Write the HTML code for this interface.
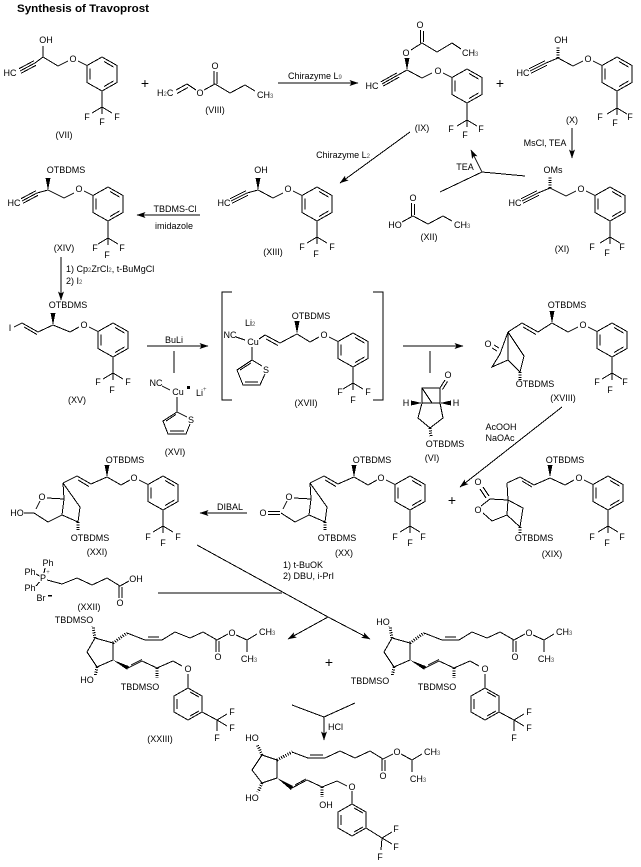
<!DOCTYPE html>
<html><head><meta charset="utf-8">
<style>
html,body{margin:0;padding:0;background:#fff;}
svg{display:block;}
text{font-family:"Liberation Sans",Arial,sans-serif;font-size:9px;fill:#000;stroke:none;text-anchor:middle;dominant-baseline:central;}
text.s{text-anchor:start;}
.sub{font-size:6px;fill:#555;}
.h{stroke-width:3;stroke-dasharray:1 1.4;}
.w{fill:#000;stroke:none;}
</style></head>
<body>
<svg width="641" height="867" viewBox="0 0 641 867" xmlns="http://www.w3.org/2000/svg">
<defs>
<marker id="ah" markerWidth="9" markerHeight="7" refX="8.5" refY="3.5" orient="auto" markerUnits="userSpaceOnUse"><path d="M0,0.5 L9,3.5 L0,6.5 L2,3.5 Z" fill="#000"/></marker>
</defs>
<rect width="641" height="867" fill="#fff"/>
<text class="s" x="17" y="9" style="font-size:11px;font-weight:bold" textLength="132" lengthAdjust="spacingAndGlyphs">Synthesis of Travoprost</text>

<g stroke="#000" stroke-width="1" fill="none" shape-rendering="crispEdges">

<!-- VII -->
<text x="46" y="40">OH</text>
<text x="10" y="73">HC</text>
<path d="M20,71 L35,63 M18.8,68.8 L33.8,60.8 M21.2,73.2 L36.2,65.2 M35,63 L43,57 L43,46 M43,57 L58,66 L68,61"/>
<g transform="translate(102,74)">
<path d="M0,-17 L15,-8.5 L15,8.5 L0,17 L-15,8.5 L-15,-8.5 Z M2,-12.5 L11.5,-7 M-12,-5.5 L-12,5.5 M11.5,7 L2,12.5 M-15,-8.5 L-24,-13 M0,17 L0,33 L-10,39 M0,33 L10,39 M0,33 L0,40"/>
<text x="-29" y="-15">O</text><text x="-15" y="43">F</text><text x="15" y="43">F</text><text x="0" y="48">F</text>
</g>
<text x="64" y="135">(VII)</text>

<text x="145" y="83" style="font-size:14px">+</text>

<!-- VIII -->
<text class="s" x="157" y="93">H<tspan class="sub" dy="2">2</tspan><tspan dy="-2">C</tspan></text>
<path d="M176,90 L187,84 M177,93.5 L188,87.5 M187,84 L196,90 M204,90 L215,84 M214,84 L214,71 M217,84 L217,72 M215,84 L230,93 L245,85 L255,91"/>
<text x="200" y="93">O</text>
<text x="215" y="66">O</text>
<text class="s" x="257" y="95">CH<tspan class="sub" dy="2">3</tspan></text>
<text x="215" y="110">(VIII)</text>

<line x1="278" y1="83" x2="358" y2="83" marker-end="url(#ah)"/>
<text class="s" x="288" y="76">Chirazyme L<tspan class="sub" dy="2">9</tspan></text>

<!-- IX -->
<text x="420" y="25">O</text>
<path d="M420.5,30 L420.5,43 M423.5,31 L423.5,42 M422,43 L437,52 L452,43 L461,49 M422,43 L411,50"/>
<text class="s" x="462" y="53">CH<tspan class="sub" dy="2">3</tspan></text>
<text x="406" y="53">O</text>
<polygon class="w" points="407,70 404.5,58 409.5,58"/>
<text x="372" y="86">HC</text>
<path d="M382,84 L398,75 M380.8,81.9 L396.8,72.9 M383.2,86.1 L399.2,77.1 M398,75 L407,70 L422,78 L432,73"/>
<g transform="translate(467,86)">
<path d="M0,-17 L15,-8.5 L15,8.5 L0,17 L-15,8.5 L-15,-8.5 Z M2,-12.5 L11.5,-7 M-12,-5.5 L-12,5.5 M11.5,7 L2,12.5 M-15,-8.5 L-24,-13 M0,17 L0,34 L-10,40 M0,34 L10,40 M0,34 L0,41"/>
<text x="-29" y="-15">O</text><text x="-16" y="43">F</text><text x="14" y="43">F</text><text x="-2" y="49">F</text>
</g>
<text x="422" y="128">(IX)</text>
<text x="500" y="83" style="font-size:14px">+</text>

<!-- X -->
<text x="561" y="40">OH</text>
<line class="h" x1="558" y1="58" x2="558" y2="46"/>
<text x="523" y="73">HC</text>
<path d="M530,71 L546,63 M528.8,68.8 L544.8,60.8 M531.2,73.2 L547.2,65.2 M546,63 L558,58 L573,66 L583,61"/>
<g transform="translate(617,74)">
<path d="M0,-17 L15,-8.5 L15,8.5 L0,17 L-15,8.5 L-15,-8.5 Z M2,-12.5 L11.5,-7 M-12,-5.5 L-12,5.5 M11.5,7 L2,12.5 M-15,-8.5 L-24,-13 M0,17 L0,34 L-10,40 M0,34 L10,40 M0,34 L0,41"/>
<text x="-29" y="-15">O</text><text x="-17" y="43">F</text><text x="13" y="43">F</text><text x="-2" y="49">F</text>
</g>
<text x="572" y="120">(X)</text>
<line x1="572" y1="128" x2="572" y2="158" marker-end="url(#ah)"/>
<text x="545" y="143">MsCl, TEA</text>

<!-- XI -->
<text x="553" y="170">OMs</text>
<line class="h" x1="550" y1="188" x2="550" y2="176"/>
<text x="515" y="203">HC</text>
<path d="M522,201 L538,193 M520.8,198.8 L536.8,190.8 M523.2,203.2 L539.2,195.2 M538,193 L550,188 L566,196 L576,191"/>
<g transform="translate(610,204)">
<path d="M0,-17 L15,-8.5 L15,8.5 L0,17 L-15,8.5 L-15,-8.5 Z M2,-12.5 L11.5,-7 M-12,-5.5 L-12,5.5 M11.5,7 L2,12.5 M-15,-8.5 L-24,-13 M0,17 L0,33 L-10,39 M0,33 L10,39 M0,33 L0,40"/>
<text x="-29" y="-15">O</text><text x="-18" y="43">F</text><text x="12" y="43">F</text><text x="-3" y="49">F</text>
</g>
<text x="562" y="249">(XI)</text>

<!-- TEA arrow -->
<path d="M525,176 L482,172 M440,192 L482,172"/>
<line x1="482" y1="172" x2="471" y2="150" marker-end="url(#ah)"/>
<text x="465" y="167">TEA</text>

<!-- XII -->
<text x="413" y="198">O</text>
<path d="M411.5,203 L411.5,216 M414.5,204 L414.5,215 M402,222 L413,216 L428,224 L443,216 L452,221"/>
<text x="395" y="225">HO</text>
<text class="s" x="454" y="225">CH<tspan class="sub" dy="2">3</tspan></text>
<text x="429" y="237">(XII)</text>

<line x1="410" y1="132" x2="340" y2="183" marker-end="url(#ah)"/>
<text x="343" y="155">Chirazyme L<tspan class="sub" dy="2">2</tspan></text>

<!-- XIII -->
<text x="261" y="170">OH</text>
<polygon class="w" points="258,190 255.5,178 260.5,178"/>
<text x="224" y="203">HC</text>
<path d="M231,201 L247,193 M229.8,198.8 L245.8,190.8 M232.2,203.2 L248.2,195.2 M247,193 L258,190 L273,198 L283,193"/>
<g transform="translate(317,204)">
<path d="M0,-17 L15,-8.5 L15,8.5 L0,17 L-15,8.5 L-15,-8.5 Z M2,-12.5 L11.5,-7 M-12,-5.5 L-12,5.5 M11.5,7 L2,12.5 M-15,-8.5 L-24,-13 M0,17 L0,33 L-10,39 M0,33 L10,39 M0,33 L0,40"/>
<text x="-29" y="-15">O</text><text x="-15" y="43">F</text><text x="15" y="43">F</text><text x="-1" y="50">F</text>
</g>
<text x="273" y="252">(XIII)</text>

<line x1="200" y1="215" x2="137" y2="215" marker-end="url(#ah)"/>
<text x="175" y="209">TBDMS-Cl</text>
<text x="174" y="226">imidazole</text>

<!-- XIV -->
<text x="66" y="170">OTBDMS</text>
<polygon class="w" points="48,190 45.5,178 50.5,178"/>
<text x="14" y="203">HC</text>
<path d="M22,201 L37,193 M20.8,198.8 L35.8,190.8 M23.2,203.2 L38.2,195.2 M37,193 L48,190 L64,198 L74,193"/>
<g transform="translate(108,204)">
<path d="M0,-17 L15,-8.5 L15,8.5 L0,17 L-15,8.5 L-15,-8.5 Z M2,-12.5 L11.5,-7 M-12,-5.5 L-12,5.5 M11.5,7 L2,12.5 M-15,-8.5 L-24,-13 M0,17 L0,34 L-10,40 M0,34 L10,40 M0,34 L0,41"/>
<text x="-29" y="-15">O</text><text x="-13" y="44">F</text><text x="14" y="44">F</text><text x="-1" y="51">F</text>
</g>
<text x="64" y="248">(XIV)</text>

<line x1="61" y1="257" x2="61" y2="300" marker-end="url(#ah)"/>
<text class="s" x="66" y="269">1) Cp<tspan class="sub" dy="2">2</tspan><tspan dy="-2">ZrCl</tspan><tspan class="sub" dy="2">2</tspan><tspan dy="-2">, t-BuMgCl</tspan></text>
<text class="s" x="66" y="281">2) I<tspan class="sub" dy="2">2</tspan></text>

<!-- XV -->
<text x="68" y="305">OTBDMS</text>
<polygon class="w" points="53,325 50.5,313 55.5,313"/>
<text x="10" y="328">I</text>
<path d="M14,327 L22,323 L38,332 L53,325 L70,332 L79,327 M24,327 L37,334.5"/>
<g transform="translate(113,340)">
<path d="M0,-17 L15,-8.5 L15,8.5 L0,17 L-15,8.5 L-15,-8.5 Z M2,-12.5 L11.5,-7 M-12,-5.5 L-12,5.5 M11.5,7 L2,12.5 M-15,-8.5 L-24,-13 M0,17 L0,33 L-10,39 M0,33 L10,39 M0,33 L0,40"/>
<text x="-29" y="-15">O</text><text x="-15" y="42">F</text><text x="15" y="42">F</text><text x="-1" y="50">F</text>
</g>
<text x="77" y="400">(XV)</text>

<line x1="147" y1="346" x2="208" y2="346" marker-end="url(#ah)"/>
<text x="174" y="340">BuLi</text>
<line x1="174" y1="351" x2="174" y2="373"/>

<!-- XVI -->
<text x="156" y="383">NC</text>
<path d="M162,386 L170,390 M177,397 L177,412 M177,412 L187,417 M190,424 L186,434 L168,434 L163,421 L177,412 M170,431 L184,431 M166,421 L176,414.5"/>
<text x="178" y="392">Cu</text>
<rect class="w" x="187" y="386" width="3" height="3"/>
<text class="s" x="196" y="393">Li<tspan class="sub" dy="-3">+</tspan></text>
<text x="191" y="420">S</text>
<text x="175" y="452">(XVI)</text>

<!-- XVII -->
<path d="M232,292 L222,292 L222,400 L232,400 M373,292 L383,292 L383,400 L373,400"/>
<text class="s" x="245" y="323">Li<tspan class="sub" dy="2">2</tspan></text>
<text x="230" y="335">NC</text>
<text x="253" y="342">Cu</text>
<path d="M236,337 L245,340 M259,339 L265,335 L280,343 L297,334 L310,342 L319,337 M266,339 L278,345.5 M252,347 L252,360 M252,360 L262,366 M265,374 L260,385 L243,385 L237,370 L252,360 M245,382 L258,382 M240,370 L251,363"/>
<polygon class="w" points="297,334 294.5,321 299.5,321"/>
<text x="311" y="316">OTBDMS</text>
<text x="266" y="370">S</text>
<g transform="translate(353,350)">
<path d="M0,-17 L15,-8.5 L15,8.5 L0,17 L-15,8.5 L-15,-8.5 Z M2,-12.5 L11.5,-7 M-12,-5.5 L-12,5.5 M11.5,7 L2,12.5 M-15,-8.5 L-24,-13 M0,17 L0,33 L-10,39 M0,33 L10,39 M0,33 L0,40"/>
<text x="-29" y="-15">O</text><text x="-13" y="42">F</text><text x="15" y="42">F</text><text x="0" y="50">F</text>
</g>
<text x="306" y="403">(XVII)</text>

<line x1="403" y1="346" x2="463" y2="346" marker-end="url(#ah)"/>
<line x1="430" y1="351" x2="430" y2="373"/>

<!-- VI -->
<text x="448" y="375">O</text>
<path d="M440,388 L445,380 M442.5,389.5 L447.5,381.5 M422,388 L440,388 L440,403 L422,403 Z M422,403 L418,418 L430,428 L443,418 L440,403 M422,388 L432,403"/>
<polygon class="w" points="422,403 411,400.5 411,405.5"/>
<polygon class="w" points="440,403 451,400.5 451,405.5"/>
<text x="406" y="403">H</text>
<text x="456" y="403">H</text>
<line class="h" x1="430" y1="428" x2="431" y2="437"/>
<text x="445" y="444">OTBDMS</text>
<text x="432" y="458">(VI)</text>

<!-- XVIII -->
<text x="567" y="305">OTBDMS</text>
<polygon class="w" points="552,323 549.5,311 554.5,311"/>
<path d="M508,332 L522,323 L538,332 L552,323 L568,332 L578,327 M523,327 L536,334.5"/>
<path d="M508,332 L508,360 M508,332 L524,356 L520,372 L508,360 L492,367 L500,354 L508,332 M497,351 L492,348 M499,348 L494,345"/>
<text x="488" y="344">O</text>
<line class="h" x1="520" y1="372" x2="520" y2="380"/>
<text x="535" y="384">OTBDMS</text>
<g transform="translate(612,340)">
<path d="M0,-17 L15,-8.5 L15,8.5 L0,17 L-15,8.5 L-15,-8.5 Z M2,-12.5 L11.5,-7 M-12,-5.5 L-12,5.5 M11.5,7 L2,12.5 M-15,-8.5 L-24,-13 M0,17 L0,33 L-10,39 M0,33 L10,39 M0,33 L0,40"/>
<text x="-29" y="-15">O</text><text x="-15" y="42">F</text><text x="13" y="42">F</text><text x="-2" y="50">F</text>
</g>
<text x="563" y="398">(XVIII)</text>

<line x1="562" y1="407" x2="460" y2="487" marker-end="url(#ah)"/>
<text x="501" y="427">AcOOH</text>
<text x="500" y="438">NaOAc</text>

<!-- XXI -->
<text x="125" y="460">OTBDMS</text>
<polygon class="w" points="107,477 104.5,465 109.5,465"/>
<path d="M63,483 L77,476 L91,484 L107,477 L121,485 L130,480 M78,480 L89,486.5"/>
<path d="M63,483 L64,499 M63,483 L80,507 L78,522 L62,515 L48,522 L34,513 M36,509 L40,501 M47,498 L64,499 L62,515 M24,513 L34,513"/>
<text x="42" y="497">O</text>
<text x="17" y="513">HO</text>
<line class="h" x1="78" y1="522" x2="78" y2="531"/>
<text x="90" y="538">OTBDMS</text>
<g transform="translate(163,493)">
<path d="M0,-17 L15,-8.5 L15,8.5 L0,17 L-15,8.5 L-15,-8.5 Z M2,-12.5 L11.5,-7 M-12,-5.5 L-12,5.5 M11.5,7 L2,12.5 M-15,-8.5 L-24,-13 M0,17 L0,33 L-10,39 M0,33 L10,39 M0,33 L0,40"/>
<text x="-29" y="-15">O</text><text x="-15" y="44">F</text><text x="15" y="44">F</text><text x="0" y="50">F</text>
</g>
<text x="97" y="552">(XXI)</text>

<line x1="247" y1="513" x2="200" y2="513" marker-end="url(#ah)"/>
<text x="230" y="507">DIBAL</text>

<!-- XX -->
<text x="372" y="460">OTBDMS</text>
<polygon class="w" points="354,477 351.5,465 356.5,465"/>
<path d="M310,483 L324,476 L338,484 L354,477 L368,485 L377,480 M325,480 L336,486.5"/>
<path d="M310,483 L311,499 M310,483 L327,507 L325,522 L309,515 L295,522 L281,513 M283,509 L287,501 M294,498 L311,499 L309,515 M268,511.5 L280,511.5 M268,514.5 L280,514.5"/>
<text x="289" y="497">O</text>
<text x="263" y="513">O</text>
<line class="h" x1="325" y1="522" x2="325" y2="531"/>
<text x="337" y="538">OTBDMS</text>
<g transform="translate(410,493)">
<path d="M0,-17 L15,-8.5 L15,8.5 L0,17 L-15,8.5 L-15,-8.5 Z M2,-12.5 L11.5,-7 M-12,-5.5 L-12,5.5 M11.5,7 L2,12.5 M-15,-8.5 L-24,-13 M0,17 L0,33 L-10,39 M0,33 L10,39 M0,33 L0,40"/>
<text x="-29" y="-15">O</text><text x="-15" y="44">F</text><text x="13" y="44">F</text><text x="0" y="50">F</text>
</g>
<text x="344" y="553">(XX)</text>

<text x="452" y="500" style="font-size:14px">+</text>

<!-- XIX -->
<text x="565" y="460">OTBDMS</text>
<polygon class="w" points="550,477 547.5,465 552.5,465"/>
<path d="M507,483 L520,477 L534,485 L550,478 L565,485 L574,480 M522,481 L532,487"/>
<path d="M507,483 L508,500 M490,499 L508,500 L523,508 L520,527 L507,515 L492,521 L483,513 M481,506 L490,499 M507,515 L508,500 M489,496 L483,487 M486,498 L480,489"/>
<text x="478" y="482">O</text>
<text x="478" y="510">O</text>
<line class="h" x1="520" y1="527" x2="520" y2="534"/>
<text x="534" y="538">OTBDMS</text>
<g transform="translate(608,493)">
<path d="M0,-17 L15,-8.5 L15,8.5 L0,17 L-15,8.5 L-15,-8.5 Z M2,-12.5 L11.5,-7 M-12,-5.5 L-12,5.5 M11.5,7 L2,12.5 M-15,-8.5 L-24,-13 M0,17 L0,33 L-10,39 M0,33 L10,39 M0,33 L0,40"/>
<text x="-29" y="-15">O</text><text x="-16" y="44">F</text><text x="14" y="44">F</text><text x="-1" y="50">F</text>
</g>
<text x="552" y="554">(XIX)</text>

<!-- XXII -->
<text x="48" y="563">Ph</text>
<text x="30" y="572">Ph</text>
<text x="30" y="588">Ph</text>
<text x="43" y="578">P</text>
<text x="48" y="573" class="sub">+</text>
<text x="41" y="598">Br</text>
<rect class="w" x="48" y="595" width="4" height="1.5"/>
<path d="M45,568 L44,573 M36,574 L39.5,576 M36,586 L39.5,582 M47,580 L62,584 L77,578 L92,585 L107,578 L120,586 L129,581 M119,586 L119,598 M122,587 L122,598"/>
<text x="120" y="603">O</text>
<text x="136" y="579">OH</text>
<text x="89" y="607">(XXII)</text>

<path d="M158,593 L282,593 M197,545 L328,617"/>
<line x1="328" y1="617" x2="288" y2="639" marker-end="url(#ah)"/>
<line x1="328" y1="617" x2="370" y2="639" marker-end="url(#ah)"/>
<text class="s" x="283" y="565">1) t-BuOK</text>
<text class="s" x="283" y="576">2) DBU, i-PrI</text>

<!-- XXIII -->
<text x="74" y="620">TBDMSO</text>
<line class="h" x1="95" y1="638" x2="93" y2="626"/>
<path d="M95,638 L113,643 L113,660 L97,667 L87,652 Z"/>
<line class="h" x1="113" y1="643" x2="127" y2="633"/>
<path d="M127,633 L145,640 L162,640 L175,632 L190,638 L203,632 L217,640 L228,634 M148,637 L159,637 M216,640 L216,652 M219,641 L219,652 M236,635 L247,640 L257,634 M247,640 L247,652"/>
<text x="218" y="657">O</text>
<text x="232" y="633">O</text>
<text class="s" x="259" y="632">CH<tspan class="sub" dy="2">3</tspan></text>
<text x="249" y="659">CH<tspan class="sub" dy="2">3</tspan></text>
<text x="87" y="680">HO</text>
<line class="h" x1="97" y1="667" x2="95" y2="676"/>
<polygon class="w" points="113,660 127.1,669.8 128.9,666.2"/>
<path d="M128,668 L142,661 L157,668 L173,661 L182,666 M131,665 L142,659.5"/>
<line class="h" x1="157" y1="668" x2="157" y2="678"/>
<text x="140" y="687">TBDMSO</text>
<g transform="translate(188,704)">
<path d="M0,-16 L14,-8 L14,8 L0,16 L-14,8 L-14,-8 Z M2,-12 L11,-7 M-11,-5 L-11,5 M11,7 L2,12 M0,-16 L0,-30 M14,8 L29,16 L39,10 M29,16 L39,22 M29,16 L29,27"/>
<text x="0" y="-35">O</text><text x="44" y="8">F</text><text x="44" y="24">F</text><text x="29" y="34">F</text>
</g>
<text x="160" y="739">(XXIII)</text>

<text x="329" y="662" style="font-size:14px">+</text>

<!-- second compound -->
<text x="383" y="622">HO</text>
<line class="h" x1="392" y1="638" x2="390" y2="626"/>
<path d="M392,638 L410,643 L410,660 L394,667 L384,652 Z"/>
<line class="h" x1="410" y1="643" x2="424" y2="633"/>
<path d="M424,633 L442,640 L459,640 L472,632 L487,638 L500,632 L514,640 L525,634 M445,637 L456,637 M513,640 L513,652 M516,641 L516,652 M533,635 L544,640 L554,634 M544,640 L544,652"/>
<text x="515" y="657">O</text>
<text x="529" y="633">O</text>
<text class="s" x="556" y="632">CH<tspan class="sub" dy="2">3</tspan></text>
<text x="546" y="659">CH<tspan class="sub" dy="2">3</tspan></text>
<text x="370" y="681">TBDMSO</text>
<line class="h" x1="394" y1="667" x2="392" y2="676"/>
<polygon class="w" points="410,660 424.1,669.8 425.9,666.2"/>
<path d="M425,668 L439,661 L454,668 L470,661 L479,666 M428,665 L439,659.5"/>
<line class="h" x1="454" y1="668" x2="454" y2="678"/>
<text x="437" y="687">TBDMSO</text>
<g transform="translate(485,704)">
<path d="M0,-16 L14,-8 L14,8 L0,16 L-14,8 L-14,-8 Z M2,-12 L11,-7 M-11,-5 L-11,5 M11,7 L2,12 M0,-16 L0,-30 M14,8 L29,16 L39,10 M29,16 L39,22 M29,16 L29,27"/>
<text x="0" y="-35">O</text><text x="44" y="8">F</text><text x="44" y="24">F</text><text x="29" y="34">F</text>
</g>

<!-- HCl arrow -->
<path d="M292,705 L324,717 L355,703"/>
<line x1="324" y1="717" x2="324" y2="740" marker-end="url(#ah)"/>
<text class="s" x="328" y="727">HCl</text>

<!-- Final product -->
<text x="252" y="738">HO</text>
<line class="h" x1="262" y1="755" x2="257" y2="744"/>
<path d="M262,755 L277,760 L277,778 L262,783 L252,770 Z"/>
<text x="252" y="798">HO</text>
<line class="h" x1="262" y1="783" x2="258" y2="792"/>
<line class="h" x1="277" y1="760" x2="292" y2="752"/>
<path d="M292,752 L308,758 L325,758 L340,751 L355,758 L370,751 L383,759 L393,754 M310,755 L323,755 M382,759 L382,771 M385,760 L385,771 M401,754 L412,760 L422,754 M412,760 L412,772"/>
<text x="383" y="776">O</text>
<text x="397" y="752">O</text>
<text class="s" x="424" y="752">CH<tspan class="sub" dy="2">3</tspan></text>
<text x="418" y="779">CH<tspan class="sub" dy="2">3</tspan></text>
<polygon class="w" points="277,778 291,790 293,786"/>
<path d="M292,788 L307,780 L322,787 L337,781 L347,786 M295,785 L306,779"/>
<line class="h" x1="322" y1="787" x2="322" y2="797"/>
<text x="326" y="805">OH</text>
<g transform="translate(352,820)">
<path d="M0,-16 L14,-8 L14,8 L0,16 L-14,8 L-14,-8 Z M2,-12 L11,-7 M-11,-5 L-11,5 M11,7 L2,12 M0,-16 L0,-29 M14,8 L30,18 L40,12 M30,18 L40,24 M30,18 L29,30"/>
<text x="0" y="-33">O</text><text x="44" y="9">F</text><text x="44" y="27">F</text><text x="28" y="37">F</text>
</g>

</g>
</svg>
</body></html>
